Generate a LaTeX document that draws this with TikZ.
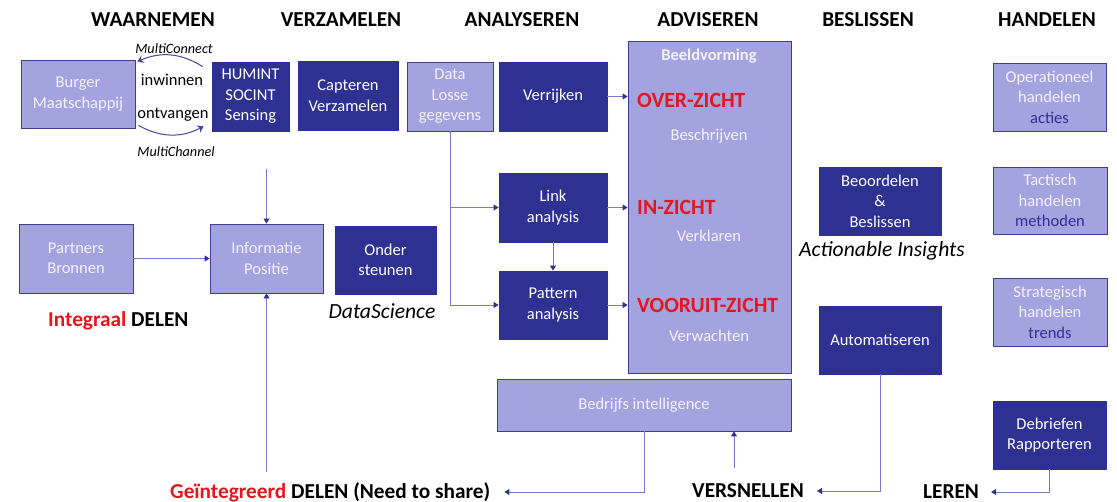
\documentclass[tikz,border=0pt]{standalone}
\usepackage{fontspec}
\setmainfont{Carlito}
\usetikzlibrary{arrows.meta,calc}
\definecolor{darkc}{RGB}{46,49,146}
\definecolor{lightc}{RGB}{163,163,224}
\definecolor{lborder}{RGB}{62,62,140}
\definecolor{linec}{RGB}{120,120,200}
\definecolor{curvec}{RGB}{70,70,160}
\definecolor{redc}{RGB}{228,22,30}
\definecolor{paletxt}{RGB}{242,242,255}
\definecolor{bluetxt}{RGB}{48,48,150}
\tikzset{
  boxtext/.style={font=\fontsize{16.5}{20.5}\selectfont, align=center, inner sep=0pt},
  dbox/.style={boxtext, fill=darkc, draw=darkc, line width=0.8pt, text=white},
  lbox/.style={boxtext, fill=lightc, draw=lborder, line width=0.8pt, text=paletxt},
  head/.style={font=\fontsize{21.3}{24}\selectfont\bfseries, inner sep=0pt},
  itl/.style={font=\fontsize{21.6}{24}\selectfont\itshape, inner sep=0pt},
  small/.style={font=\fontsize{14.2}{16}\selectfont\itshape, inner sep=0pt},
  mid/.style={font=\fontsize{16.5}{19}\selectfont, inner sep=0pt},
  redt/.style={font=\fontsize{21.7}{24}\selectfont\bfseries, text=redc, inner sep=0pt},
  inbox/.style={font=\fontsize{16.5}{19}\selectfont, text=paletxt, inner sep=0pt},
  arr/.style={draw=linec, line width=0.9pt, -{Triangle[width=6pt,length=5pt,color=darkc]}},
  carr/.style={draw=curvec, line width=1pt, -{Stealth[width=8pt,length=6pt,color=curvec]}},
}
\begin{document}
\begin{tikzpicture}[x=1pt,y=-1pt]
\useasboundingbox (0,0) rectangle (1117,502);
% headings
\node[head] (h1) at (153,20) {WAARNEMEN};
\node[head] (h2) at (341,20) {VERZAMELEN};
\node[head] (h3) at (522,20) {ANALYSEREN};
\node[head] (h4) at (708,20) {ADVISEREN};
\node[head] (h5) at (868,20) {BESLISSEN};
\node[head] (h6) at (1047,20) {HANDELEN};
% top row
\node[lbox, minimum width=114pt, minimum height=68pt] (burger) at (78,94) {Burger\\Maatschappij};
\node[dbox, minimum width=77pt, minimum height=69pt] (humint) at (250.5,96.5) {HUMINT\\SOCINT\\Sensing};
\node[dbox, minimum width=100pt, minimum height=69pt] (capteren) at (348,95.5) {Capteren\\Verzamelen};
\node[lbox, minimum width=86pt, minimum height=69pt] (data) at (450,96.5) {Data\\Losse\\gegevens};
\node[dbox, minimum width=108pt, minimum height=69pt] (verrijken) at (553,96.5) {Verrijken};
\node[lbox, minimum width=163pt, minimum height=332pt] (beeld) at (709.5,207) {};
\node[dbox, minimum width=108pt, minimum height=69pt] (link) at (553,207.5) {Link\\analysis};
\node[dbox, minimum width=108pt, minimum height=68pt] (pattern) at (553,305) {Pattern\\analysis};
\node[lbox, minimum width=294pt, minimum height=52pt] (bedrijfs) at (644,405) {Bedrijfs intelligence};
% left middle
\node[lbox, minimum width=114pt, minimum height=69pt] (partners) at (76,258.5) {Partners\\Bronnen};
\node[lbox, minimum width=113pt, minimum height=69pt] (informatie) at (266.5,258.5) {Informatie\\Positie};
\node[dbox, minimum width=101pt, minimum height=68pt] (onder) at (385.5,260) {Onder\\steunen};
\node[itl] (ds) at (382,311) {DataScience};
\node[head, anchor=west] (integraal) at (48,321) {\textcolor{redc}{Integraal} DELEN};
% right
\node[dbox, minimum width=122pt, minimum height=68pt] (beoordelen) at (880,201) {Beoordelen\\\&\\Beslissen};
\node[itl] (ai) at (882,251) {Actionable Insights};
\node[dbox, minimum width=122pt, minimum height=68pt] (autom) at (880,340) {Automatiseren};
\node[lbox, minimum width=113pt, minimum height=68pt] (oper) at (1049.5,97) {Operationeel\\handelen\\\textcolor{bluetxt}{acties}};
\node[lbox, minimum width=114pt, minimum height=67pt] (tact) at (1050,200.5) {Tactisch\\handelen\\\textcolor{bluetxt}{methoden}};
\node[lbox, minimum width=114pt, minimum height=68pt] (strat) at (1050,312) {Strategisch\\handelen\\\textcolor{bluetxt}{trends}};
\node[dbox, minimum width=113pt, minimum height=68pt] (debrief) at (1049.5,435) {Debriefen\\Rapporteren};
% Beeldvorming contents
\node[font=\fontsize{16.5}{19}\selectfont\bfseries, text=paletxt, inner sep=0pt] (bv) at (709,56) {Beeldvorming};
\node[redt, anchor=west] (over) at (637,100) {OVER-ZICHT};
\node[inbox] (beschr) at (709,136) {Beschrijven};
\node[redt, anchor=west] (in) at (637,207) {IN-ZICHT};
\node[inbox] (verkl) at (709,236) {Verklaren};
\node[redt, anchor=west] (vooruit) at (637,305) {VOORUIT-ZICHT};
\node[inbox] (verw) at (709,336) {Verwachten};
% bottom texts
\node[head, anchor=west] (geint) at (170,492) {\textcolor{redc}{Geïntegreerd} DELEN (Need to share)};
\node[head] (versn) at (748,491) {VERSNELLEN};
\node[head] (leren) at (951,492) {LEREN};
% curved labels
\node[small] (mc) at (174,49) {MultiConnect};
\node[mid] (inw) at (172,80) {inwinnen};
\node[mid] (ontv) at (173,115) {ontvangen};
\node[small] (mch) at (176,152) {MultiChannel};
% curved arrows
\draw[carr] ($(humint.north west)+(-9,5)$) to[bend right=28] ($(burger.north east)+(2,2)$);
\draw[carr] ($(burger.south east)+(3,-3)$) to[bend right=28] ($(humint.south west)+(-8,-5)$);
% analysis connectors
\draw[arr] (verrijken.east) -- (verrijken.east -| beeld.west);
\draw[arr] (link.east) -- (link.east -| beeld.west);
\draw[arr] (pattern.east) -- (pattern.east -| beeld.west);
\draw[arr] (data.south) |- (pattern.west);
\draw[arr] (data.south |- link.west) -- (link.west);
\draw[arr] (link.south) -- (pattern.north);
% info position
\draw[arr] (partners.east) -- (informatie.west);
\coordinate (iptop) at (266.5,169);
\coordinate (ipbot) at (266.5,472);
\draw[arr] (iptop) -- (informatie.north);
\draw[arr] (ipbot) -- (informatie.south);
% bottom connectors
\draw[arr] (bedrijfs.south) |- ([xshift=14pt]geint.east);
\coordinate (vtop) at (734,468);
\draw[arr] (vtop) -- (vtop |- bedrijfs.south);
\draw[arr] (autom.south) |- ([xshift=13pt]versn.east);
\draw[arr] (debrief.south) |- ([xshift=12pt]leren.east);
\end{tikzpicture}
\end{document}
